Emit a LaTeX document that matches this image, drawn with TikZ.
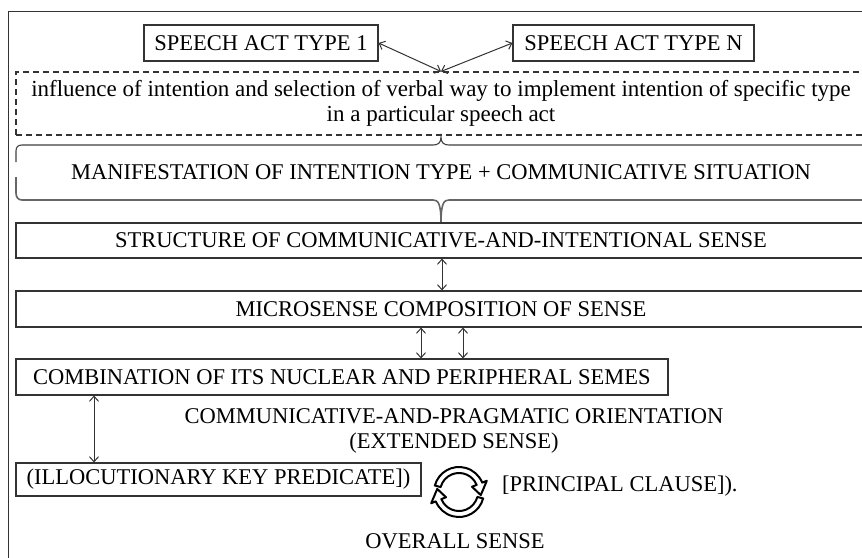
\documentclass[tikz,border=0pt]{standalone}
\usepackage{fontspec}
\setmainfont{Liberation Serif}
\usetikzlibrary{arrows.meta,calc}
\begin{document}
\begin{tikzpicture}[x=1pt,y=-1pt,
  every node/.style={font=\fontsize{22.5}{25}\selectfont, text=black},
  box/.style={draw=black!80, line width=1.1pt, inner sep=0pt, align=center},
  dbox/.style={box, dash pattern=on 6pt off 4pt},
  link/.style={draw=black!80, line width=1pt, {Straight Barb[length=5pt,width=9pt]}-{Straight Barb[length=5pt,width=9pt]}},
  brace/.style={draw=black!75, line width=1.1pt},
  cyclearrow/.style={draw=black, line width=2pt, fill=white, line join=round},
]
\useasboundingbox (0,0) rectangle (862,557);
\clip (0,0) rectangle (862,557);
\fill[white] (0,0) rectangle (862,557);

% outer frame (open to the right and bottom)
\draw[line width=1pt, black!80] (8.5,580) -- (8.5,11) -- (880,11);

% top boxes
\node[box, minimum width=234, minimum height=36] (t1) at (261,43) {SPEECH ACT TYPE 1};
\node[box, minimum width=241, minimum height=36] (tn) at (633.5,43) {SPEECH ACT TYPE N};

% dashed box
\node[dbox, minimum width=850, minimum height=63, font=\fontsize{23}{25}\selectfont] (inf) at (441,103.5)
  {influence of intention and selection of verbal way to implement intention of specific type\\in a particular speech act};

\draw[link] (t1.east) -- (inf.north);
\draw[link] (tn.west) -- (inf.north);

% braces
\draw[brace] (16,162) -- (16,151) .. controls (16,147) and (18,145) .. (22,145)
  -- (433,145) .. controls (438,145) and (441,143) .. (441,137)
  .. controls (441,143) and (444,145) .. (449,145) -- (880,145);
\draw[brace, black!60, line width=1.6pt] (16,177) -- (16,193) .. controls (16,197) and (18,200) .. (22,200)
  -- (433,200) .. controls (438,200) and (441,203) .. (441,223)
  .. controls (441,203) and (444,200) .. (449,200) -- (880,200);

\node (man) at (441,172) {MANIFESTATION OF INTENTION TYPE + COMMUNICATIVE SITUATION};

% main boxes
\node[box, minimum width=850, minimum height=35] (str) at (441,240.5) {STRUCTURE OF COMMUNICATIVE-AND-INTENTIONAL SENSE};
\node[box, minimum width=850, minimum height=36] (mic) at (441,309) {MICROSENSE COMPOSITION OF SENSE};
\node[box, minimum width=652, minimum height=36] (comb) at (342,377) {COMBINATION OF ITS NUCLEAR AND PERIPHERAL SEMES};
\node[box, minimum width=405, minimum height=33] (ill) at (218.5,479.5) {(ILLOCUTIONARY KEY PREDICATE])};

\draw[link] (str.south -| 442,0) -- (mic.north -| 442,0);
\draw[link] (mic.south -| 421,0) -- (comb.north -| 421,0);
\draw[link] (mic.south -| 463,0) -- (comb.north -| 463,0);
\draw[link] (comb.south -| 94,0) -- (ill.north -| 94,0);

% free texts
\node[align=center, inner sep=0pt] (ori) at (454,430.5) {COMMUNICATIVE-AND-PRAGMATIC ORIENTATION\\(EXTENDED SENSE)};
\node[anchor=west, inner sep=0pt] (pc) at (502,486) {[PRINCIPAL CLAUSE]).};
\node[inner sep=0pt] (ov) at (455,541) {OVERALL SENSE};

% cycle icon
\coordinate (cyc) at (459,492);
\draw[cyclearrow] ($(cyc)+(-165:25)$) arc[start angle=-165, end angle=-22, radius=25]
  -- ($(cyc)+(-22:30)$) -- ($(cyc)+(8:22)$) -- ($(cyc)+(-22:14)$) -- ($(cyc)+(-22:19)$)
  arc[start angle=-22, end angle=-165, radius=19] -- cycle;
\draw[cyclearrow] ($(cyc)+(15:25)$) arc[start angle=15, end angle=158, radius=25]
  -- ($(cyc)+(158:30)$) -- ($(cyc)+(188:22)$) -- ($(cyc)+(158:14)$) -- ($(cyc)+(158:19)$)
  arc[start angle=158, end angle=15, radius=19] -- cycle;
\end{tikzpicture}
\end{document}
